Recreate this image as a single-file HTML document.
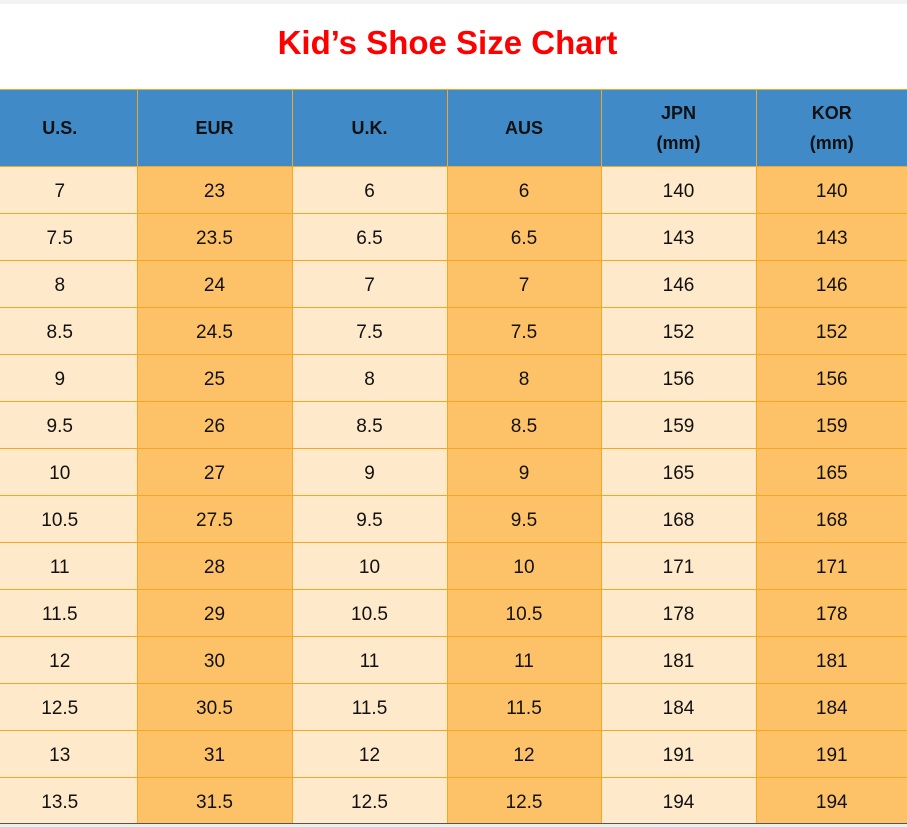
<!DOCTYPE html>
<html><head><meta charset="utf-8"><style>
body{margin:0;width:907px;height:827px;background:#fff;position:relative;overflow:hidden;font-family:"Liberation Sans",Arial,sans-serif}
.top{position:absolute;left:0;top:0;width:907px;height:4px;background:#f2f2f2}
.title{position:absolute;left:0;top:20px;width:895px;text-align:center;color:#f00;font-size:33px;font-weight:bold;line-height:46px}
table{position:absolute;left:0;top:89px;border-collapse:collapse;table-layout:fixed;width:907px}
td,th{border:1px solid #f5a623;text-align:center;padding:0;font-size:19px;color:#111}
th{background:#418ac8;height:76px;font-weight:bold;font-size:18px;line-height:30px;border-top-color:#f5a623}
td{height:47px;padding-top:4px;box-sizing:border-box}
td:nth-child(odd){background:#fee9cb}
td:nth-child(even){background:#fdc268}
tr td:first-child,tr th:first-child{border-left:none;padding-right:17px}
tr td:last-child,tr th:last-child{border-right:none}
.bot{position:absolute;left:0;top:823px;width:907px;height:1px;background:#555}
.bot2{position:absolute;left:0;top:824px;width:907px;height:3px;background:#eee}
</style></head><body>
<div class="top"></div>
<div class="title">Kid’s Shoe Size Chart</div>
<table>
<colgroup><col style="width:137px"><col style="width:155px"><col style="width:155px"><col style="width:154px"><col style="width:155px"><col style="width:151px"></colgroup>
<tr><th>U.S.</th><th>EUR</th><th>U.K.</th><th>AUS</th><th>JPN<br>(mm)</th><th>KOR<br>(mm)</th></tr>
<tr><td>7</td><td>23</td><td>6</td><td>6</td><td>140</td><td>140</td></tr>
<tr><td>7.5</td><td>23.5</td><td>6.5</td><td>6.5</td><td>143</td><td>143</td></tr>
<tr><td>8</td><td>24</td><td>7</td><td>7</td><td>146</td><td>146</td></tr>
<tr><td>8.5</td><td>24.5</td><td>7.5</td><td>7.5</td><td>152</td><td>152</td></tr>
<tr><td>9</td><td>25</td><td>8</td><td>8</td><td>156</td><td>156</td></tr>
<tr><td>9.5</td><td>26</td><td>8.5</td><td>8.5</td><td>159</td><td>159</td></tr>
<tr><td>10</td><td>27</td><td>9</td><td>9</td><td>165</td><td>165</td></tr>
<tr><td>10.5</td><td>27.5</td><td>9.5</td><td>9.5</td><td>168</td><td>168</td></tr>
<tr><td>11</td><td>28</td><td>10</td><td>10</td><td>171</td><td>171</td></tr>
<tr><td>11.5</td><td>29</td><td>10.5</td><td>10.5</td><td>178</td><td>178</td></tr>
<tr><td>12</td><td>30</td><td>11</td><td>11</td><td>181</td><td>181</td></tr>
<tr><td>12.5</td><td>30.5</td><td>11.5</td><td>11.5</td><td>184</td><td>184</td></tr>
<tr><td>13</td><td>31</td><td>12</td><td>12</td><td>191</td><td>191</td></tr>
<tr><td>13.5</td><td>31.5</td><td>12.5</td><td>12.5</td><td>194</td><td>194</td></tr>
</table>
<div class="bot"></div><div class="bot2"></div>
</body></html>
